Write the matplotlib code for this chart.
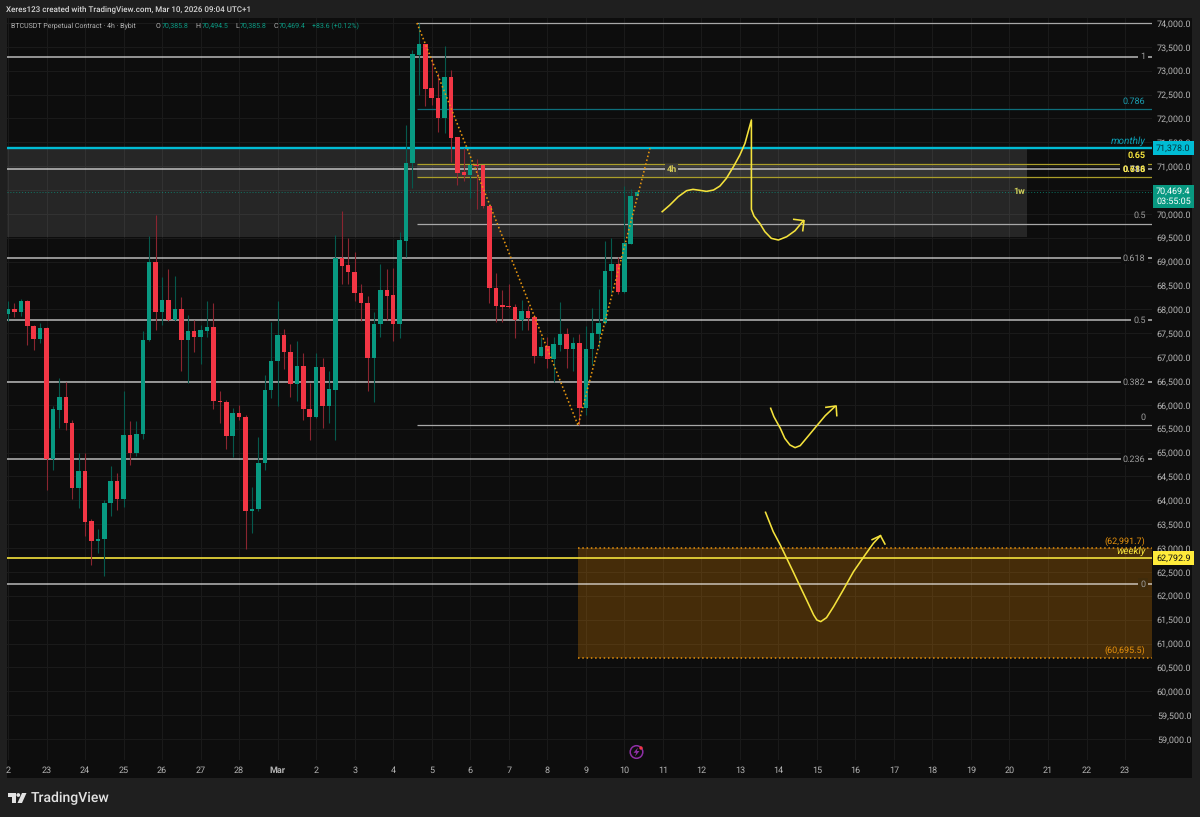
import matplotlib
matplotlib.use('Agg')
import matplotlib.pyplot as plt
from matplotlib.patches import Rectangle, Polygon, Circle

plt.rcParams['font.family'] = ['Roboto', 'DejaVu Sans']
plt.rcParams['text.hinting'] = 'none'
plt.rcParams['text.hinting_factor'] = 1

# 4h candles
opens = [67911,68002,67953,68176,67652,67380,67604,64873,65900,66158,
         65613,64252,64608,63560,63155,63183,63937,64405,64021,65369,
         64999,65397,67352,68993,67939,68190,67778,68016,67352,67541,
         67429,67548,67638,66088,66067,65355,65823,65739,63784,63812,
         64789,66312,66926,67464,67115,66444,66808,65921,65740,66794,
         65970,66312,69084,68931,68791,68351,68135,66989,67688,68407,
         68302,67688,69440,71068,73330,73554,72632,72436,72003,72869,
         71612,70879,70816,71026,71019,70174,68456,68086,68072,68051,
         67779,67960,67841,67031,67227,66962,67255,67478,67164,67290,
         65928,67164,67492,67709,68798,68945,68358,69371,70385.8]
highs = [68176,68127,68218,68197,67673,67722,67638,65976,66570,66486,
         65683,64985,64985,63602,63393,64007,64720,64566,66298,65669,
         65669,67548,69538,69978,68686,68840,68700,68253,67876,67778,
         67680,68176,68127,66298,66102,65928,65990,65788,64287,65334,
         66633,67736,68176,67583,67275,67331,67087,66452,67080,66976,
         66710,69559,70062,69489,69210,68526,68281,67953,68952,68847,
         68875,69615,71864,73435,74010,73560,73260,72946,73526,73016,
         71620,71375,71165,71144,71030,70188,68756,68407,68526,68107,
         68198,68072,67883,67429,67429,67429,68163,67618,67429,67478,
         67660,68023,68421,69434,69489,69105,70586,70523,70494.5]
lows = [67764,67834,67862,67254,67150,67289,64217,64636,65516,65474,
        64021,63833,63253,62646,62890,62422,63672,63798,63868,64734,
        64929,65278,67345,67569,67673,67764,67764,66710,66451,67108,
        66856,67415,65921,65627,65083,64901,65683,62974,63323,63784,
        64636,66151,65976,66759,66172,66074,65684,65265,65719,65509,
        65614,65265,68526,68526,68177,67765,66298,66068,67429,67779,
        67346,67408,69105,70537,72492,72269,72283,71724,71689,71095,
        70607,70690,70327,70104,70118,68128,67730,67730,68023,67408,
        67569,67562,66885,67025,66766,66487,67129,66766,66710,65579,
        65788,66836,67185,67700,68337,68316,68350,69360,70385.8]
closes = [68002,67953,68176,67645,67380,67604,64873,65907,66158,65613,
          64252,64608,63553,63155,63183,63937,64405,64021,65369,64999,
          65397,67359,68993,67939,68190,67778,68016,67352,67541,67429,
          67562,67638,66074,66067,65355,65830,65739,63784,63819,64789,
          66312,66926,67464,67108,66444,66807,65914,65740,66794,65970,
          66333,69084,68917,68784,68344,68128,66989,67695,68407,68288,
          67688,69454,71075,73344,73554,72625,72436,72003,72869,71598,
          70865,70816,71033,71012,70160,68449,68072,68058,68044,67779,
          67960,67827,67031,67220,66962,67269,67478,67164,67290,65928,
          67164,67506,67723,68805,68945,68358,69385,70376,70469.4]

day_labels = ['2','23','24','25','26','27','28','Mar','2','3','4','5','6','7','8','9','10',
              '11','12','13','14','15','16','17','18','19','20','21','22','23']
price_ticks = list(range(59000, 74001, 500))

# fib levels
wide_levels = [73288, 70950, 69077, 67778, 66479, 64866, 62247]
wide_names = ['1', '', '0.618', '0.5', '0.382', '0.236', '0']
short_levels = [74000, 72196, 69789, 65568]
short_names = ['', '0.786', '0.5', '0']
short_colors = ['#a8a8a8', '#0d6f7c', '#a8a8a8', '#a8a8a8']
fib_065 = 71049
fib_0618 = 70779
monthly = 71378.0
weekly = 62792.9
last_price = 70469.4
zone_top = 62991.7
zone_bottom = 60695.5
grey_low = 69517
fib_x = [63.7, 88.8, 100.0]
fib_y = [74000, 65568, 71378]

# hand drawn scribbles: bar index, price
draw_a_x = [101.9,103.1,104.4,105.7,106.7,107.8,108.8,109.9,110.9,111.9,113.0,114.0,114.8,115.8,115.8,116.2,117.1,117.9,118.9,120.0,121.3,122.6,123.9]
draw_a_y = [70047,70187,70361,70487,70515,70494,70473,70501,70585,70745,70990,71234,71479,71968,70096,69956,69803,69628,69489,69454,69523,69649,69859]
head_a_x = [122.4,124.0,123.8]
head_a_y = [69887,69859,69649]
draw_b_x = [118.8,119.3,120.3,121.0,121.8,122.6,123.4,124.7,126.0,127.3,128.8]
draw_b_y = [65928,65753,65509,65299,65160,65104,65146,65355,65565,65774,65963]
head_b_x = [127.4,129.0,129.1]
head_b_y = [65949,65977,65774]
draw_c_x = [118.0,119.2,120.3,121.3,122.3,123.4,124.4,125.5,126.0,126.6,127.5,128.6,130.1,131.7,133.5,134.8,135.9]
draw_c_y = [63749,63344,63065,62785,62506,62192,61912,61598,61493,61459,61542,61773,62122,62506,62855,63100,63260]
head_c_x = [134.6,135.9,136.6]
head_c_y = [63176,63260,63085]

W, H = 1200, 817
frame = '#1f1f1f'
panel = '#0d0d0d'
green = '#089981'
red = '#f23645'
yellow = '#f4e23c'
cyan = '#00bcd4'
orange = '#e8920c'

fig = plt.figure(figsize=(12, 8.17), dpi=100, facecolor=frame)

back = fig.add_axes([0, 0, 1, 1], zorder=0)
back.set_xlim(0, W)
back.set_ylim(H, 0)
back.axis('off')
back.add_patch(Rectangle((7, 18), 1185, 760, facecolor=panel, edgecolor='none'))

# price pane, 1 bar = 6.42 px, 1000 usd = 47.73 px
ax = fig.add_axes([7/W, 1-760/H, 1145/W, 742/H], zorder=1)
ax.patch.set_alpha(0)
xleft, xright = -0.156, 178.2
ax.set_xlim(xleft, xright)
ax.set_ylim(58560, 74105)
for s in ax.spines.values():
    s.set_visible(False)
ax.yaxis.tick_right()
ax.set_yticks(price_ticks)
ax.set_yticklabels([f'{p:,.1f}' for p in price_ticks])
ax.set_xticks([i*6 for i in range(len(day_labels))])
ax.set_xticklabels(day_labels)
ax.tick_params(axis='both', length=0, labelsize=6.4, labelcolor='#b4b4b4')
ax.tick_params(axis='y', pad=3.5)
ax.tick_params(axis='x', pad=4.5)
ax.get_xticklabels()[7].set_fontweight('bold')
ax.grid(True, color='#1b1b1b', lw=0.7)
ax.set_axisbelow(True)

# zones
ax.fill_between([xleft, 158.7], grey_low, monthly, color='white', alpha=0.105, lw=0, zorder=1)
ax.fill_between([63.7, 158.7], fib_0618, fib_065, color='white', alpha=0.07, lw=0, zorder=1)
ax.fill_between([88.8, xright], zone_bottom, zone_top, color='#f08c00', alpha=0.25, lw=0, zorder=1)
ax.hlines([zone_top, zone_bottom], 88.8, xright, color=orange, lw=1.1, ls=(0, (1, 1.8)), zorder=2)

# levels
for lv in wide_levels:
    ax.axhline(lv, color='white', alpha=0.6, lw=1.3, zorder=2)
ax.hlines(short_levels, 63.7, xright, colors=short_colors, lw=0.9, zorder=2)
ax.hlines([fib_065, fib_0618], 63.7, xright, colors='#ab9e2a', lw=0.9, zorder=2)
ax.axhline(last_price, color=green, alpha=0.7, lw=0.7, ls=(0, (1, 2)), zorder=2)
ax.axhline(monthly, color=cyan, lw=1.7, zorder=3)
ax.axhline(weekly, color=yellow, lw=1.2, zorder=3)

# candles
for i in range(len(opens)):
    up = closes[i] >= opens[i]
    ax.vlines(i, lows[i], highs[i], color='#06594d' if up else '#8a2530', lw=0.8, zorder=4)
    lo = min(opens[i], closes[i])
    ax.bar(i, abs(closes[i]-opens[i]), 0.7, bottom=lo, color=green if up else red, lw=0, zorder=5)

ax.plot(fib_x, fib_y, color='#e8960f', lw=1.15, ls=(0, (1, 1.5)), zorder=6)

# scribbles
for xs, ys in [(draw_a_x, draw_a_y), (head_a_x, head_a_y), (draw_b_x, draw_b_y),
               (head_b_x, head_b_y), (draw_c_x, draw_c_y), (head_c_x, head_c_y)]:
    ax.plot(xs, ys, color=yellow, lw=1.15, zorder=7, solid_joinstyle='round')

# level labels
lab_x = 177.2
for lv, nm in zip(wide_levels, wide_names):
    if nm:
        bg = '#3f2b0b' if nm == '0' else panel
        ax.text(lab_x, lv, nm, color='#9c9c9c', fontsize=6.2, ha='right', va='center', zorder=8,
                bbox=dict(facecolor=bg, edgecolor='none', pad=1.5))
ax.text(lab_x, 70925, '0.786', color='#d0d0d0', fontsize=6.2, ha='right', va='center', fontweight='bold', zorder=8,
        bbox=dict(facecolor=panel, edgecolor='none', pad=1.5))
ax.text(lab_x, 70925, '0.618', color=yellow, fontsize=6.2, ha='right', va='center', fontweight='bold', zorder=9)
ax.text(lab_x, fib_065+170, '0.65', color=yellow, fontsize=6.2, ha='right', va='center', fontweight='bold', zorder=8)
ax.text(lab_x, 72196+170, '0.786', color='#1a9fb2', fontsize=6.2, ha='right', va='center', zorder=8)
ax.text(lab_x, 69789+170, '0.5', color='#9c9c9c', fontsize=6.2, ha='right', va='center', zorder=8)
ax.text(lab_x, 65568+170, '0', color='#9c9c9c', fontsize=6.2, ha='right', va='center', zorder=8)
ax.text(103.4, 70925, '4h', color='#d8cd58', fontsize=6.2, ha='center', va='center', fontweight='bold', zorder=8,
        bbox=dict(facecolor='#3a3a3a', edgecolor='none', pad=1))
ax.text(157.5, 70460, '1w', color='#cfcf5a', fontsize=6.2, ha='center', va='center', fontweight='bold', zorder=8)
ax.text(lab_x, monthly+150, 'monthly', color='#0b9fb5', fontsize=7, ha='right', va='center', style='italic', zorder=8)
ax.text(lab_x, weekly+140, 'weekly', color=yellow, fontsize=7, ha='right', va='center', style='italic', zorder=8)
ax.text(lab_x, zone_top+60, '(62,991.7)', color=orange, fontsize=6.2, ha='right', va='bottom', zorder=8)
ax.text(lab_x, zone_bottom+60, '(60,695.5)', color=orange, fontsize=6.2, ha='right', va='bottom', zorder=8)

# price boxes on the scale
side = ax.get_yaxis_transform()
ax.text(1.0035, monthly, '71,378.0', transform=side, color='#08323a', fontsize=6.4, va='center', ha='left', zorder=10,
        clip_on=False, bbox=dict(facecolor=cyan, edgecolor='none', pad=2.2))
ax.text(1.0035, weekly, '62,792.9', transform=side, color='#111111', fontsize=6.4, va='center', ha='left', zorder=10,
        clip_on=False, bbox=dict(facecolor='#ffeb3b', edgecolor='none', pad=2.2))
ax.text(1.0035, last_price-105, '70,469.4\n03:55:05', transform=side, color='white', fontsize=6.4, va='center', ha='left',
        zorder=10, linespacing=1.15, clip_on=False, bbox=dict(facecolor=green, edgecolor='none', pad=2))

# header
def px_text(x, y, s, color, size=5.4, **kw):
    fig.text(x/W, 1-y/H, s, color=color, fontsize=size, va='center', ha='left', **kw)

px_text(6, 9, 'Xeres123 created with TradingView.com, Mar 10, 2026 09:04 UTC+1', '#d8d8d8', 5.45, fontweight='medium')
px_text(11, 26, 'BTCUSDT Perpetual Contract · 4h · Bybit', '#b4b4b4')
for x, s in [(155.5, 'O'), (195.5, 'H'), (235.5, 'L'), (273.5, 'C')]:
    px_text(x, 26, s, '#b4b4b4')
for x, s in [(161.5, '70,385.8'), (201.5, '70,494.5'), (240, '70,385.8'), (279, '70,469.4'), (312.5, '+83.6 (+0.12%)')]:
    px_text(x, 26, s, '#0b9a83')

# overlay for logo and the bolt icon
top = fig.add_axes([0, 0, 1, 1], zorder=3)
top.set_xlim(0, W)
top.set_ylim(H, 0)
top.axis('off')
top.patch.set_alpha(0)
logo = '#e2e2e2'
top.add_patch(Polygon([(8, 793), (16, 793), (16, 803), (12, 803), (12, 797), (8, 797)], closed=True, facecolor=logo, edgecolor='none'))
top.add_patch(Circle((18.3, 795), 1.9, facecolor=logo, edgecolor='none'))
top.add_patch(Polygon([(22, 793), (26.5, 793), (22, 803), (17.5, 803)], closed=True, facecolor=logo, edgecolor='none'))
top.text(31, 798, 'TradingView', color=logo, fontsize=10.3, va='center', ha='left', fontweight='medium')
top.add_patch(Circle((636.5, 752), 6.3, facecolor='none', edgecolor='#8e2fa6', lw=1.1))
top.add_patch(Polygon([(638, 747.5), (633.5, 752.8), (636.2, 752.8), (635, 756.5), (639.5, 751), (636.8, 751)], closed=True,
                      facecolor='#8e2fa6', edgecolor='none'))
top.add_patch(Circle((641, 748), 1.7, facecolor='#f23645', edgecolor='none'))

fig.savefig('out.png', dpi=100, facecolor=frame)
